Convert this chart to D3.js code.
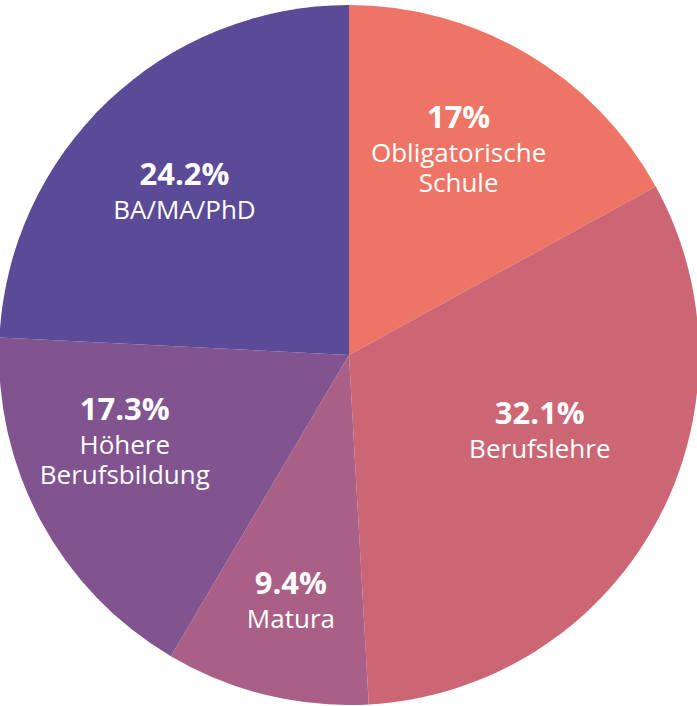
<!DOCTYPE html>
<html>
<head>
<meta charset="utf-8">
<script src="https://cdn.jsdelivr.net/npm/d3@7"></script>
<style>
  html, body { margin: 0; padding: 0; background: #ffffff; }
  svg { display: block; }
</style>
</head>
<body>
<svg id="chart" width="697" height="706"></svg>
<script>
// ---- Data ----
const categories = ["Obligatorische Schule", "Berufslehre", "Matura", "Höhere Berufsbildung", "BA/MA/PhD"];
const labelLines = [["Obligatorische", "Schule"], ["Berufslehre"], ["Matura"], ["Höhere", "Berufsbildung"], ["BA/MA/PhD"]];
const values = [17, 32.1, 9.4, 17.3, 24.2];
const valueLabels = ["17%", "32.1%", "9.4%", "17.3%", "24.2%"];
const colors = ["#ee7565", "#cc6675", "#aa5f86", "#81538f", "#5a4a97"];

// ---- Layout (label nudges relative to slice centroid) ----
const labelNudge = [[-9, -4], [-13, -36], [-3, 20], [-19, -23], [-4, 6]];

const W = 697, H = 706;
const cx = 349, cy = 355, R = 350;
const labelR = 233;

const svg = d3.select("#chart");
const g = svg.append("g").attr("transform", `translate(${cx},${cy})`);

const data = categories.map((c, i) => ({ name: c, lines: labelLines[i], value: values[i], label: valueLabels[i], color: colors[i], nudge: labelNudge[i] }));

const pie = d3.pie().sort(null).value(d => d.value);
const arc = d3.arc().innerRadius(0).outerRadius(R);
const labelArc = d3.arc().innerRadius(labelR).outerRadius(labelR);

const arcs = pie(data);

g.selectAll("path.slice")
  .data(arcs)
  .join("path")
  .attr("class", "slice")
  .attr("d", arc)
  .attr("fill", d => d.data.color);

const pctGap = 34, lineGap = 30, capH = 19;
const fontFamily = "'Open Sans', 'Noto Sans', sans-serif";

const labels = g.selectAll("g.label")
  .data(arcs)
  .join("g")
  .attr("class", "label")
  .attr("transform", d => {
    const [x, y] = labelArc.centroid(d);
    const n = d.data.lines.length;
    const blockH = capH + pctGap + (n - 1) * lineGap;
    const top = y + d.data.nudge[1] - blockH / 2;
    return `translate(${x + d.data.nudge[0]},${top + capH})`;
  });

labels.append("text")
  .attr("text-anchor", "middle")
  .attr("fill", "#ffffff")
  .attr("font-family", fontFamily)
  .attr("font-weight", 700)
  .attr("font-size", 31)
  .text(d => d.data.label);

labels.each(function(d) {
  const sel = d3.select(this);
  d.data.lines.forEach((line, i) => {
    sel.append("text")
      .attr("text-anchor", "middle")
      .attr("y", pctGap + i * lineGap)
      .attr("fill", "#ffffff")
      .attr("font-family", fontFamily)
      .attr("font-weight", 400)
      .attr("font-size", 26)
      .text(line);
  });
});
</script>
</body>
</html>
